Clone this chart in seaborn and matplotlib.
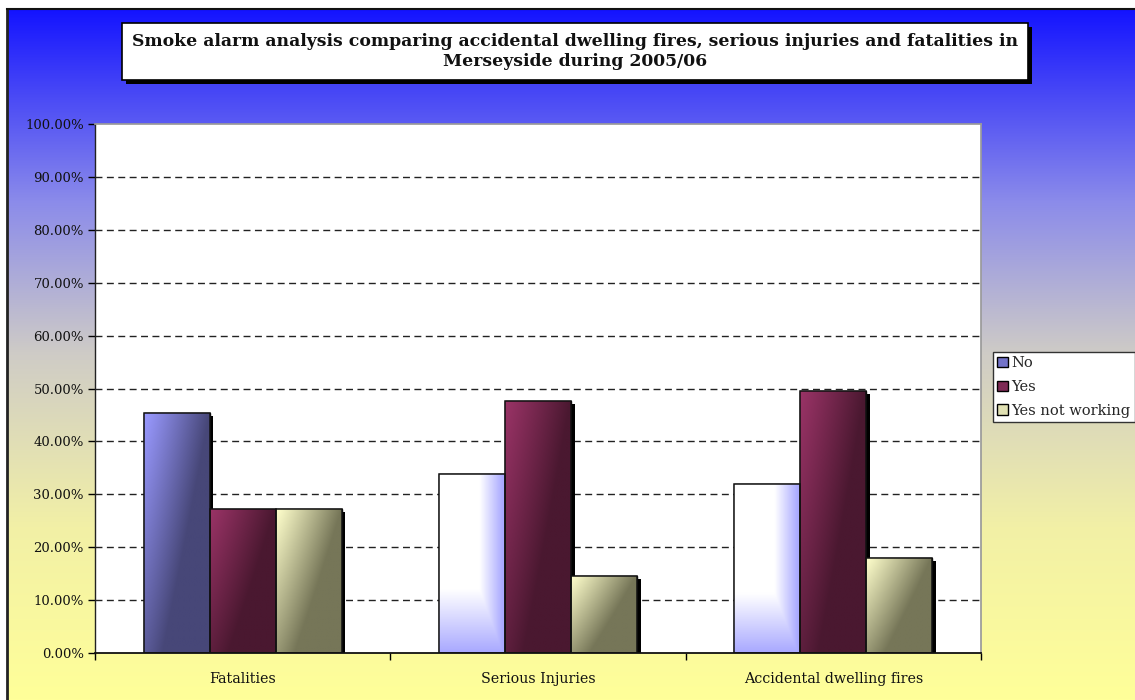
import numpy as np
import pandas as pd
import matplotlib
matplotlib.use("Agg")
import matplotlib.pyplot as plt
import matplotlib.patheffects as pe
from matplotlib.colors import LinearSegmentedColormap, to_rgb
from matplotlib.patches import Rectangle, Patch
from matplotlib.ticker import FuncFormatter, FixedLocator
import seaborn as sns

# data (percent)
categories = ["Fatalities", "Serious Injuries", "Accidental dwelling fires"]
series = ["No", "Yes", "Yes not working"]
no_alarm = [45.45, 33.85, 31.90]
yes_alarm = [27.27, 47.69, 49.60]
not_working = [27.27, 14.62, 18.00]
yticks = [0, 10, 20, 30, 40, 50, 60, 70, 80, 90, 100]
title = ("Smoke alarm analysis comparing accidental dwelling fires, serious injuries and fatalities in\n"
         "Merseyside during 2005/06")

df = pd.DataFrame({
    "category": categories * 3,
    "alarm": np.repeat(series, len(categories)),
    "pct": no_alarm + yes_alarm + not_working,
})

palette = {"No": "#9999FF", "Yes": "#993366", "Yes not working": "#FFFFCC"}
dark = {"No": "#474778", "Yes": "#4A1830", "Yes not working": "#767658"}
legend_cols = {"No": "#7373C8", "Yes": "#7E2A55", "Yes not working": "#E2E2B4"}

sns.set_theme(style="white")
plt.rcParams["font.family"] = ["DejaVu Serif"]

W, H = 1135, 700
fig = plt.figure(figsize=(W / 100, H / 100), dpi=100, facecolor="white")

# background gradient panel
bg = fig.add_axes([7 / W, 0, 1 - 7 / W, 691 / H])
bg_cmap = LinearSegmentedColormap.from_list(
    "bg", [(0, "#FFFF99"), (0.25, "#F2F0A6"), (0.5, "#CFCCC6"), (0.72, "#8C8CEA"), (1, "#1414FF")])
bg.imshow(np.linspace(0, 1, 256).reshape(-1, 1), cmap=bg_cmap, aspect="auto",
          extent=[0, 1, 0, 1], origin="lower")
bg.set_xticks([])
bg.set_yticks([])
for side in ["right", "bottom"]:
    bg.spines[side].set_visible(False)
bg.spines["left"].set_linewidth(2)
bg.spines["top"].set_linewidth(1.5)
bg.spines["left"].set_color("#222222")
bg.spines["top"].set_color("#111111")

# plot area
ax = fig.add_axes([95 / W, 47 / H, 886 / W, 529 / H])
sns.barplot(data=df, x="category", y="pct", hue="alarm", order=categories,
            hue_order=series, palette=palette, width=0.67, saturation=1,
            edgecolor="black", linewidth=1, ax=ax, legend=False)
ax.set_facecolor("white")

# gradient fills, shadows and outlines on the bars
for i, (name, cont) in enumerate(zip(series, ax.containers)):
    for j, bar in enumerate(cont):
        x0, y0 = bar.get_x(), bar.get_y()
        w, h = bar.get_width(), bar.get_height()
        t = np.linspace(0, 1, 60)[None, :]
        s = np.linspace(0, 1, 60)[:, None]
        if name == "No" and j > 0:
            light, deep = np.array(to_rgb("white")), np.array(to_rgb("#AAAAFF"))
            f = np.clip(np.maximum((t - 0.62) / 0.35, (0.35 - s) / 0.35), 0, 1)
        else:
            light, deep = np.array(to_rgb(palette[name])), np.array(to_rgb(dark[name]))
            f = np.clip(t ** 1.1 + (1 - s) * 0.75, 0, 1)
        img = light[None, None, :] * (1 - f[..., None]) + deep[None, None, :] * f[..., None]
        bar.set_path_effects([pe.SimplePatchShadow(offset=(2.6, -2.6), shadow_rgbFace="black", alpha=1),
                              pe.Normal()])
        bar.set_zorder(2)
        im = ax.imshow(img, extent=[x0, x0 + w, y0, y0 + h], origin="lower",
                       aspect="auto", zorder=2.5, interpolation="bilinear")
        im.set_clip_path(bar)
        ax.add_patch(Rectangle((x0, y0), w, h, fill=False, edgecolor="#111111",
                               linewidth=1.1, zorder=3))
ax.set_aspect("auto")
ax.set_xlim(-0.5, len(categories) - 0.5)
ax.set_ylim(0, 100)

# gridlines
for v in yticks[1:-1]:
    ax.axhline(v, color="#222222", linewidth=1, linestyle=(0, (5, 3.2)), zorder=1)

ax.set_yticks(yticks)
ax.yaxis.set_major_formatter(FuncFormatter(lambda v, p: f"{v:.2f}%"))
ax.tick_params(axis="y", which="major", direction="out", length=5, width=1,
               color="black", labelsize=9.5, labelcolor="#111111", pad=3, left=True)
ax.set_xticks(range(len(categories)))
ax.set_xticklabels(categories)
ax.tick_params(axis="x", which="major", length=0, labelsize=10.3, labelcolor="#111111", pad=14)
ax.xaxis.set_minor_locator(FixedLocator([-0.5, 0.5, 1.5, 2.5]))
ax.tick_params(axis="x", which="minor", direction="out", length=5, width=1,
               color="black", bottom=True)
ax.set_xlabel("")
ax.set_ylabel("")
ax.spines["left"].set_color("#222222")
ax.spines["bottom"].set_color("#111111")
ax.spines["bottom"].set_linewidth(1.3)
ax.spines["left"].set_linewidth(1)
ax.spines["top"].set_color("#9A9A9A")
ax.spines["right"].set_color("#9A9A9A")

# title box with shadow
tb = Rectangle((122 / W, 1 - 80 / H), (1028 - 122) / W, 57 / H, transform=fig.transFigure,
               facecolor="white", edgecolor="black", linewidth=1.2, zorder=5)
tb.set_path_effects([pe.SimplePatchShadow(offset=(3, -3), shadow_rgbFace="black", alpha=1),
                     pe.Normal()])
fig.add_artist(tb)
fig.text(575 / W, 1 - 51.5 / H, title, ha="center", va="center", fontsize=12.4,
         fontweight="bold", color="#111111", linespacing=1.3, zorder=6)

# legend
handles = [Patch(facecolor=legend_cols[n], edgecolor="black", linewidth=1) for n in series]
fig.legend(handles, series, loc="upper left", bbox_to_anchor=(993 / W, 1 - 352 / H),
           frameon=True, fancybox=False, edgecolor="#333333", facecolor="white",
           framealpha=1, fontsize=10.5, handlelength=0.7, handleheight=0.7,
           handletextpad=0.25, labelspacing=0.66, borderpad=0.3, borderaxespad=0)

fig.savefig("out.png", dpi=100, facecolor="white")
